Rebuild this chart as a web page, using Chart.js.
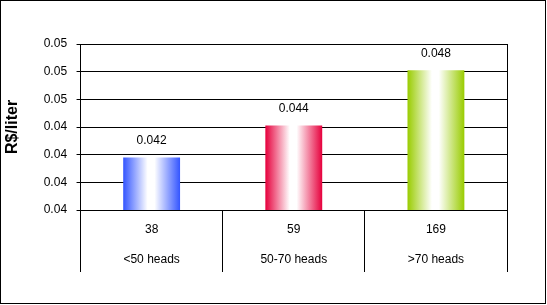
<!DOCTYPE html>
<html>
<head>
<meta charset="utf-8">
<script src="https://cdn.jsdelivr.net/npm/chart.js@4/dist/chart.umd.min.js"></script>
<style>
  html, body { margin: 0; padding: 0; background: #fff; overflow: hidden; }
  canvas { display: block; }
</style>
</head>
<body>
<canvas id="costChart" width="547" height="305"></canvas>
<script>
  const categories = ['<50 heads', '50-70 heads', '>70 heads'];
  const herdCounts = [38, 59, 169];
  const costPerLiter = [0.0418, 0.0441, 0.0481];
  const barColors = ['#3355ff', '#e6003c', '#99cc00'];

  // gradient across each bar: color -> white -> color
  function barGradient(context) {
    const chart = context.chart;
    const xs = chart.scales.x;
    const i = context.dataIndex;
    if (!xs || !chart.chartArea || i === undefined) return barColors[i || 0];
    const cx = xs.getPixelForValue(i);
    const w = (chart.chartArea.right - chart.chartArea.left) / categories.length * 0.4;
    const g = chart.ctx.createLinearGradient(cx - w / 2, 0, cx + w / 2, 0);
    const c = barColors[i];
    g.addColorStop(0, c);
    g.addColorStop(0.43, '#ffffff');
    g.addColorStop(0.55, '#ffffff');
    g.addColorStop(1, c);
    return g;
  }

  const framePlugin = {
    id: 'frame',
    beforeDraw(chart) {
      const ctx = chart.ctx;
      ctx.save();
      ctx.fillStyle = '#fff';
      ctx.fillRect(0, 0, chart.width, chart.height);
      ctx.restore();
    },
    afterDraw(chart) {
      const ctx = chart.ctx;
      const a = chart.chartArea;
      ctx.save();
      ctx.strokeStyle = '#000';
      ctx.lineWidth = 1;
      ctx.beginPath();
      ctx.moveTo(Math.round(a.right) + 0.5, Math.round(a.top));
      ctx.lineTo(Math.round(a.right) + 0.5, Math.round(a.bottom));
      ctx.stroke();
      ctx.strokeRect(0.5, 0.5, chart.width - 2, chart.height - 2);
      ctx.restore();
    }
  };

  const valueLabels = {
    id: 'valueLabels',
    afterDatasetsDraw(chart) {
      const ctx = chart.ctx;
      const meta = chart.getDatasetMeta(0);
      ctx.save();
      ctx.font = '12px "Liberation Sans", Arial, sans-serif';
      ctx.fillStyle = '#000';
      ctx.textAlign = 'center';
      ctx.textBaseline = 'middle';
      meta.data.forEach((bar, i) => {
        ctx.fillText(costPerLiter[i].toFixed(3), bar.x, bar.y - 17);
      });
      ctx.restore();
    }
  };

  const ctx = document.getElementById('costChart').getContext('2d');
  const costChart = new Chart(ctx, {
    type: 'bar',
    data: {
      labels: categories.map((c, i) => [String(herdCounts[i]), c]),
      datasets: [{
        data: costPerLiter,
        backgroundColor: barGradient,
        borderWidth: 0,
        categoryPercentage: 1,
        barPercentage: 0.4
      }]
    },
    options: {
      responsive: false,
      animation: false,
      layout: { padding: { left: 0, top: 44, right: 40, bottom: 30 } },
      plugins: {
        legend: { display: false },
        tooltip: { enabled: false }
      },
      scales: {
        x: {
          // table-like axis: tall separators, labels pulled up between them
          afterFit: scale => { scale.height = 65; },
          grid: {
            offset: true,
            drawOnChartArea: false,
            drawTicks: true,
            tickLength: 62,
            color: '#000'
          },
          border: { color: '#000' },
          ticks: {
            padding: -58,
            color: '#000',
            maxRotation: 0,
            autoSkip: false,
            font: { family: '"Liberation Sans", Arial, sans-serif', size: 12, lineHeight: 2.54 }
          }
        },
        y: {
          min: 0.038,
          max: 0.05,
          grid: { color: '#000', tickLength: 4 },
          border: { color: '#000' },
          ticks: {
            stepSize: 0.002,
            padding: 9.5,
            color: '#000',
            font: { family: '"Liberation Sans", Arial, sans-serif', size: 12 },
            callback: v => v.toFixed(2)
          },
          title: {
            display: true,
            text: 'R$/liter',
            color: '#000',
            padding: { top: 3, bottom: 12 },
            font: { family: '"Liberation Sans", Arial, sans-serif', size: 16, weight: 'bold' }
          }
        }
      }
    },
    plugins: [framePlugin, valueLabels]
  });
</script>
</body>
</html>
